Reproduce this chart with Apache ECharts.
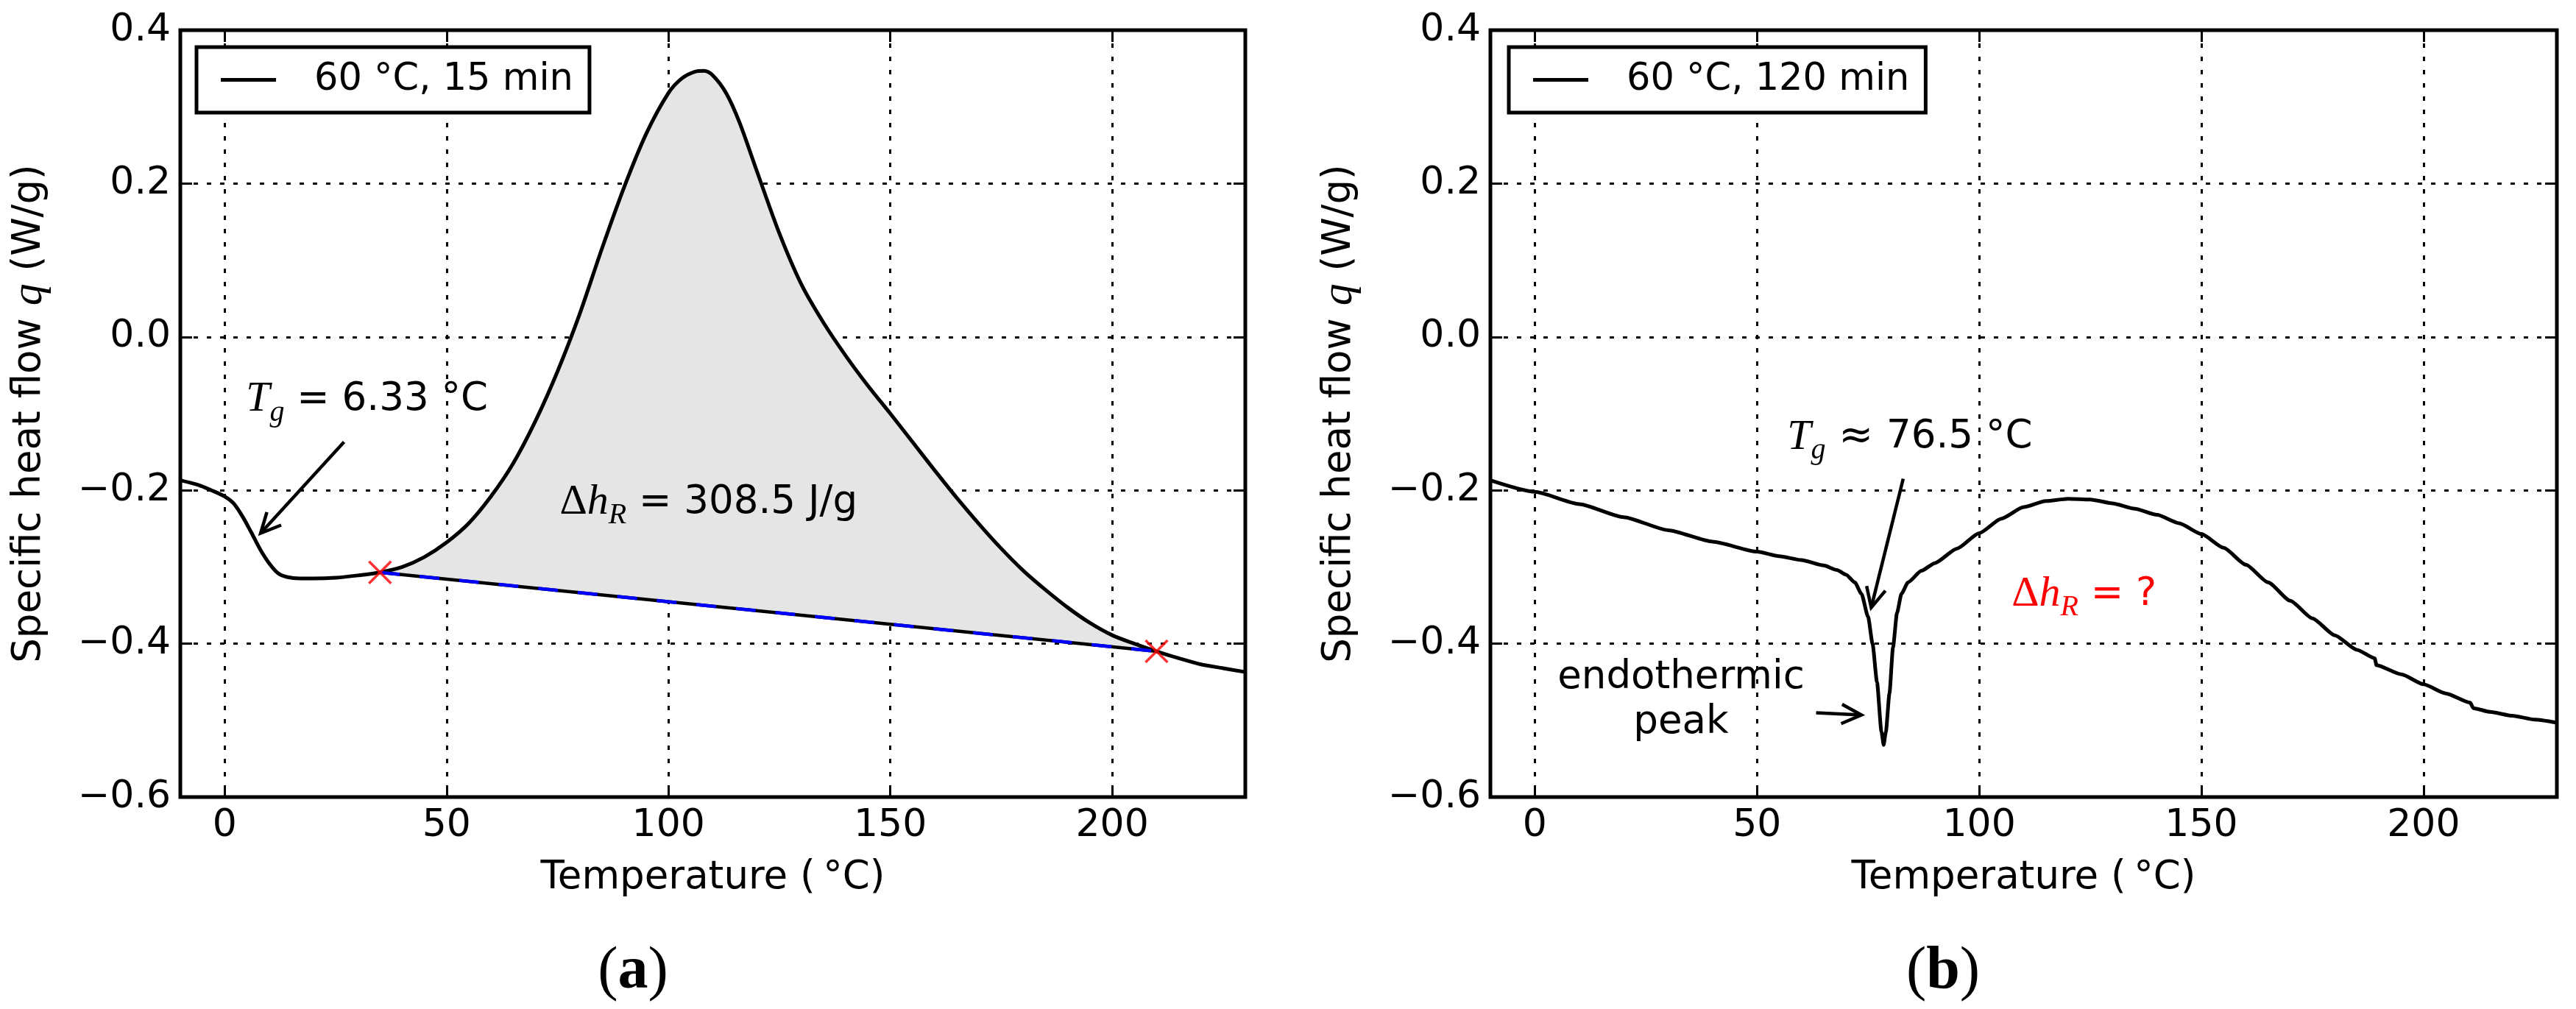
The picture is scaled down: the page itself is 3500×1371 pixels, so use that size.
<!DOCTYPE html>
<html>
<head>
<meta charset="utf-8">
<title>Specific heat flow</title>
<script src="https://cdn.jsdelivr.net/npm/echarts@6/dist/echarts.min.js"></script>
<style>
    html, body { margin: 0; padding: 0; background: #fff; }
    #chart { width: 3500px; height: 1371px; }
</style>
</head>
<body>
<div id="chart"></div>
<script>
    // ---- data ----
    var tempA = [-10, -6, -3, 0, 2, 4, 6, 8, 10, 12, 14, 17, 20, 25, 30, 35, 40, 45, 50, 55,
        60, 65, 70, 75, 80, 85, 90, 95, 100, 103, 106, 108, 110, 113, 116, 120, 125, 130, 135, 140,
        145, 150, 155, 160, 165, 170, 175, 180, 185, 190, 195, 200, 205, 210, 215, 220, 225, 230];
    var heatA = [-0.187, -0.193, -0.200, -0.208, -0.217, -0.234, -0.255, -0.277, -0.295, -0.308,
        -0.313, -0.315, -0.315, -0.314, -0.311, -0.307, -0.300, -0.287, -0.268, -0.243,
        -0.208, -0.165, -0.110, -0.045, 0.030, 0.115, 0.195, 0.265, 0.318, 0.337,
        0.346, 0.347, 0.341, 0.318, 0.280, 0.215, 0.135, 0.068, 0.018, -0.025,
        -0.064, -0.100, -0.137, -0.174, -0.210, -0.244, -0.276, -0.305, -0.330, -0.353,
        -0.373, -0.389, -0.400, -0.410, -0.419, -0.427, -0.432, -0.437];

    var tempB = [-10, 0, 10, 20, 30, 40, 50, 55, 60, 65, 68, 70, 72, 73.5, 75, 76, 77, 78, 78.5, 79,
        79.8, 80.6, 81.5, 82.5, 84, 87, 90, 95, 100, 105, 110, 115, 120, 125, 130, 135, 140, 145,
        150, 155, 160, 165, 170, 175, 180, 185, 189, 189.4, 195, 200, 205, 210.5, 211.2, 215, 220, 225, 230];
    var heatB = [-0.187, -0.202, -0.218, -0.235, -0.252, -0.267, -0.280, -0.286, -0.291, -0.298,
        -0.304, -0.310, -0.320, -0.335, -0.365, -0.400, -0.450, -0.515, -0.532, -0.515,
        -0.465, -0.405, -0.360, -0.335, -0.320, -0.305, -0.295, -0.276, -0.256, -0.237,
        -0.222, -0.214, -0.211, -0.212, -0.217, -0.224, -0.232, -0.243, -0.257, -0.275,
        -0.297, -0.320, -0.344, -0.367, -0.389, -0.408, -0.419, -0.428, -0.440, -0.453,
        -0.465, -0.477, -0.484, -0.489, -0.494, -0.499, -0.503];

    // straight reaction baseline of panel (a) and its end points
    var baseTemp = [35, 210];
    var baseHeat = [-0.307, -0.410];

    var xTickLabels = [0, 50, 100, 150, 200];
    var yTickLabels = [-0.6, -0.4, -0.2, 0.0, 0.2, 0.4];
    var legendA = '60 °C, 15 min';
    var legendB = '60 °C, 120 min';

    // ---- styling ----
    var FONT = 'DejaVu Sans';
    var SERIF = 'Liberation Serif';
    var FS = 53;

    function zip(xs, ys) {
        return xs.map(function (x, i) { return [x, ys[i]]; });
    }

    function xAxisOf(gi, pos) {
        var bottom = pos === 'bottom';
        return {
            type: 'value', gridIndex: gi, position: pos,
            min: -10, max: 230, splitNumber: 5, minInterval: 50, maxInterval: 50,
            axisLine: { show: false, onZero: false },
            axisTick: { show: true, inside: true, length: 16, lineStyle: { color: '#000', width: 3 } },
            axisLabel: {
                show: bottom, margin: 13, color: '#000', fontFamily: FONT, fontSize: 52,
                showMinLabel: false, showMaxLabel: false,
                formatter: function (v) { return xTickLabels.indexOf(v) >= 0 ? String(v) : ''; }
            },
            splitLine: { show: bottom, lineStyle: { color: '#000', width: 3, type: [6, 12] } },
            name: bottom ? 'Temperature (\u2009°C)' : '',
            nameLocation: 'middle', nameGap: 84,
            nameTextStyle: { color: '#000', fontFamily: FONT, fontSize: FS }
        };
    }

    function yAxisOf(gi, pos) {
        var left = pos === 'left';
        return {
            type: 'value', gridIndex: gi, position: pos,
            min: -0.6, max: 0.4, splitNumber: 5,
            axisLine: { show: false, onZero: false },
            axisTick: { show: true, inside: true, length: 16, lineStyle: { color: '#000', width: 3 } },
            axisLabel: {
                show: left, margin: 13, color: '#000', fontFamily: FONT, fontSize: 52,
                formatter: function (v) {
                    var r = Math.round(v * 10) / 10;
                    var hit = yTickLabels.some(function (t) { return Math.abs(t - r) < 1e-9; });
                    return hit ? r.toFixed(1).replace('-', '\u2212') : '';
                }
            },
            splitLine: { show: left, lineStyle: { color: '#000', width: 3, type: [6, 12] } },
            name: left ? '{t|Specific heat flow }{q|q}{t| (W/g)}' : '',
            nameLocation: 'middle', nameGap: 175,
            nameTextStyle: {
                color: '#000', fontFamily: FONT, fontSize: FS,
                rich: {
                    t: { fontFamily: FONT, fontSize: FS, color: '#000' },
                    q: { fontFamily: SERIF, fontStyle: 'italic', fontSize: 60, color: '#000' }
                }
            }
        };
    }

    function legendOf(name, left) {
        return {
            data: [name], left: left, top: 64, orient: 'horizontal',
            backgroundColor: '#fff', borderColor: '#000', borderWidth: 5, borderRadius: 0,
            padding: [19, 22, 19, 33], itemWidth: 75, itemHeight: 5, icon: 'rect',
            selectedMode: false,
            textStyle: { color: '#000', fontFamily: FONT, fontSize: 51, padding: [0, 0, 0, 47] }
        };
    }

    // grey area between the exotherm and the baseline
    function renderFill(params, api) {
        if (params.dataIndex !== 0) { return; }
        var pts = [];
        for (var i = 0; i < tempA.length; i++) {
            if (tempA[i] >= baseTemp[0] && tempA[i] <= baseTemp[1]) {
                pts.push(api.coord([tempA[i], heatA[i]]));
            }
        }
        pts.push(api.coord([baseTemp[1], baseHeat[1]]));
        pts.push(api.coord([baseTemp[0], baseHeat[0]]));
        return { type: 'polygon', shape: { points: pts }, style: { fill: '#e5e5e5' } };
    }

    var fillData = zip(tempA, heatA).filter(function (p) {
        return p[0] >= baseTemp[0] && p[0] <= baseTemp[1];
    });

    var option = {
        animation: false,
        backgroundColor: '#fff',
        grid: [
            { left: 245, top: 41, width: 1447, height: 1042, show: true, borderColor: '#000', borderWidth: 5, backgroundColor: 'transparent' },
            { left: 2025, top: 41, width: 1449, height: 1042, show: true, borderColor: '#000', borderWidth: 5, backgroundColor: 'transparent' }
        ],
        xAxis: [xAxisOf(0, 'bottom'), xAxisOf(0, 'top'), xAxisOf(1, 'bottom'), xAxisOf(1, 'top')],
        yAxis: [yAxisOf(0, 'left'), yAxisOf(0, 'right'), yAxisOf(1, 'left'), yAxisOf(1, 'right')],
        legend: [legendOf(legendA, 267), legendOf(legendB, 2050)],
        series: [
            {
                type: 'custom', xAxisIndex: 0, yAxisIndex: 0, silent: true, z: 1,
                data: fillData, encode: { x: 0, y: 1 }, renderItem: renderFill
            },
            {
                name: legendA, type: 'line', xAxisIndex: 0, yAxisIndex: 0,
                data: zip(tempA, heatA), showSymbol: false, symbol: 'none', smooth: 0.3,
                color: '#000', lineStyle: { color: '#000', width: 5 }, z: 3
            },
            {
                type: 'line', xAxisIndex: 0, yAxisIndex: 0, data: zip(baseTemp, baseHeat),
                showSymbol: false, symbol: 'none', lineStyle: { color: '#000', width: 4.5 }, z: 4
            },
            {
                type: 'line', xAxisIndex: 0, yAxisIndex: 0, data: zip(baseTemp, baseHeat),
                showSymbol: false, symbol: 'none', lineStyle: { color: '#0000ff', width: 4.5, type: [27, 27] }, z: 5
            },
            {
                type: 'scatter', xAxisIndex: 0, yAxisIndex: 0, data: zip(baseTemp, baseHeat),
                symbol: 'path://M0,0L10,10M10,0L0,10', symbolSize: 30,
                itemStyle: { color: 'transparent', borderColor: '#ff0000', borderWidth: 3.5 }, z: 6
            },
            {
                name: legendB, type: 'line', xAxisIndex: 2, yAxisIndex: 2,
                data: zip(tempB, heatB), showSymbol: false, symbol: 'none', smooth: 0.2, smoothMonotone: 'x',
                color: '#000', lineStyle: { color: '#000', width: 5 }, z: 3
            }
        ]
    };

    var chart = echarts.init(document.getElementById('chart'), null, { renderer: 'canvas' });
    chart.setOption(option);

    // ---- annotations, anchored in data coordinates ----
    function px(panel, p) {
        return chart.convertToPixel({ xAxisIndex: panel * 2, yAxisIndex: panel * 2 }, p);
    }

    function arrow(panel, tail, tip) {
        var a = px(panel, tail), b = px(panel, tip);
        var dx = a[0] - b[0], dy = a[1] - b[1];
        var len = Math.sqrt(dx * dx + dy * dy);
        var ux = dx / len, uy = dy / len;
        var head = 30, ang = 26 * Math.PI / 180;
        function rot(s) {
            var c = Math.cos(s * ang), n = Math.sin(s * ang);
            return [b[0] + head * (ux * c - uy * n), b[1] + head * (ux * n + uy * c)];
        }
        var style = { stroke: '#000', lineWidth: 4.5, fill: null };
        return [
            { type: 'polyline', shape: { points: [a, b] }, style: style, z: 10 },
            { type: 'polyline', shape: { points: [rot(1), b, rot(-1)] }, style: style, z: 10 }
        ];
    }

    var mathRich = {
        m: { fontFamily: SERIF, fontStyle: 'italic', fontSize: 58, fill: '#000' },
        u: { fontFamily: SERIF, fontSize: 58, fill: '#000' },
        s: { fontFamily: SERIF, fontStyle: 'italic', fontSize: 40, fill: '#000', padding: [36, 0, 0, 0] },
        n: { fontFamily: FONT, fontSize: FS, fill: '#000' },
        ap: { fontFamily: FONT, fontSize: 56, fill: '#000' }
    };
    var redRich = {
        u: { fontFamily: SERIF, fontSize: 58, fill: '#ff0000' },
        m: { fontFamily: SERIF, fontStyle: 'italic', fontSize: 58, fill: '#ff0000' },
        s: { fontFamily: SERIF, fontStyle: 'italic', fontSize: 40, fill: '#ff0000', padding: [36, 0, 0, 0] },
        n: { fontFamily: FONT, fontSize: FS, fill: '#ff0000' }
    };

    function label(panel, at, text, rich, align) {
        var p = px(panel, at);
        return {
            type: 'text', x: p[0], y: p[1], z: 10,
            style: { text: text, rich: rich, align: align || 'left', verticalAlign: 'middle', fill: '#000', fontFamily: FONT, fontSize: FS }
        };
    }

    var grid0 = option.grid[0], grid1 = option.grid[1];
    function caption(cx, letter) {
        return {
            type: 'text', x: cx, y: 1321, z: 10,
            style: {
                text: '{p|(}{b|' + letter + '}{p|)}',
                align: 'center', verticalAlign: 'middle',
                rich: {
                    p: { fontFamily: SERIF, fontSize: 82, fill: '#000' },
                    b: { fontFamily: SERIF, fontWeight: 'bold', fontSize: 82, fill: '#000' }
                }
            }
        };
    }

    var graphics = []
        .concat(arrow(0, [26.9, -0.137], [8.1, -0.256]))
        .concat(arrow(1, [82.9, -0.185], [75.7, -0.353]))
        .concat(arrow(1, [63.3, -0.490], [73.5, -0.493]))
        .concat([
            label(0, [4.8, -0.082], '{m|T}{s|g}{n| = 6.33 °C}', mathRich),
            label(0, [75.5, -0.216], '{u|Δ}{m|h}{s|R}{n| = 308.5 J/g}', mathRich),
            label(1, [56.8, -0.131], '{m|T}{s|g}{ap| ≈ }{n|76.5 °C}', mathRich),
            label(1, [107.3, -0.336], '{u|Δ}{m|h}{s|R}{n| = ?}', redRich),
            {
                type: 'text', z: 10,
                x: px(1, [32.9, -0.474])[0], y: px(1, [32.9, -0.474])[1],
                style: {
                    text: 'endothermic\npeak', align: 'center', verticalAlign: 'middle',
                    fill: '#000', fontFamily: FONT, fontSize: FS, lineHeight: 61
                }
            },
            caption(grid0.left + 615, 'a'),
            caption(grid1.left + 615, 'b')
        ]);

    chart.setOption({ graphic: graphics });
</script>
</body>
</html>
